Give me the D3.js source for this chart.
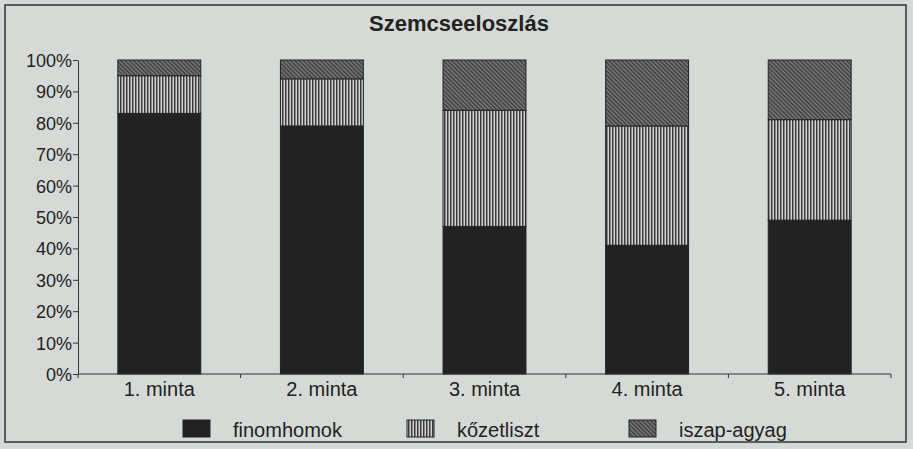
<!DOCTYPE html>
<html>
<head>
<meta charset="utf-8">
<script src="https://cdn.jsdelivr.net/npm/d3@7"></script>
<style>
  body { margin: 0; background: #d6dad7; }
  svg { display: block; font-family: "Liberation Sans", Arial, sans-serif; }
</style>
</head>
<body>
<svg id="graph" width="913" height="449"></svg>
<script>
  var samples = ["1. minta", "2. minta", "3. minta", "4. minta", "5. minta"];
  var finomhomok = [83, 79, 47, 41, 49];
  var kozetliszt = [12, 15, 37, 38, 32];
  var iszapAgyag = [5, 6, 16, 21, 19];
  var seriesNames = ["finomhomok", "kőzetliszt", "iszap-agyag"];
  var yTicks = [0, 10, 20, 30, 40, 50, 60, 70, 80, 90, 100];

  var svg = d3.select("#graph");
  // plot box (note: "top" is reserved on window, so use other names)
  var plotL = 78, plotR = 891, plotT = 60, plotB = 374;

  // patterns for the fills
  var defs = svg.append("defs");
  var pv = defs.append("pattern").attr("id", "vert")
    .attr("patternUnits", "userSpaceOnUse").attr("width", 3).attr("height", 3);
  pv.append("rect").attr("width", 3).attr("height", 3).attr("fill", "#d2d4d2");
  pv.append("rect").attr("width", 1.5).attr("height", 3).attr("fill", "#3a3a3a");

  var pd = defs.append("pattern").attr("id", "diag")
    .attr("patternUnits", "userSpaceOnUse").attr("width", 3).attr("height", 3)
    .attr("patternTransform", "rotate(-45)");
  pd.append("rect").attr("width", 3).attr("height", 3).attr("fill", "#7a7c7a");
  pd.append("rect").attr("width", 1.4).attr("height", 3).attr("fill", "#383838");

  var fills = ["#222222", "url(#vert)", "url(#diag)"];

  // outer frame
  svg.append("rect").attr("x", 5).attr("y", 5).attr("width", 901).attr("height", 437)
    .attr("fill", "none").attr("stroke", "#333").attr("stroke-width", 1.5);

  svg.append("text").text("Szemcseeloszlás")
    .attr("x", 459).attr("y", 31)
    .attr("text-anchor", "middle")
    .style("font-weight", "bold").style("font-size", "22px").attr("fill", "#222");

  var x = d3.scaleBand().domain(samples).range([plotL, plotR]).paddingInner(0.49).paddingOuter(0.245);
  var y = d3.scaleLinear().domain([0, 100]).range([plotB, plotT]);

  var rows = samples.map(function(s, i) {
    return { name: s, finomhomok: finomhomok[i], "kőzetliszt": kozetliszt[i], "iszap-agyag": iszapAgyag[i] };
  });
  var stacked = d3.stack().keys(seriesNames)(rows);

  stacked.forEach(function(layer, li) {
    svg.append("g").selectAll("rect").data(layer).enter().append("rect")
      .attr("x", function(d) { return x(d.data.name); })
      .attr("y", function(d) { return y(d[1]); })
      .attr("width", x.bandwidth())
      .attr("height", function(d) { return y(d[0]) - y(d[1]); })
      .attr("fill", fills[li])
      .attr("stroke", "#222").attr("stroke-width", 1);
  });

  // y axis
  var yAxis = svg.append("g").attr("transform", "translate(" + plotL + ",0)")
    .call(d3.axisLeft(y).tickValues(yTicks).tickSize(5).tickSizeOuter(0)
      .tickFormat(function(d) { return d + "%"; }));
  yAxis.selectAll("text").style("font-size", "18px").attr("fill", "#222").attr("x", -6).attr("dy", "0.36em");
  yAxis.selectAll("line, path").attr("stroke", "#333");

  // x axis with ticks at band edges
  var xAxis = svg.append("g").attr("transform", "translate(0," + plotB + ")");
  xAxis.append("line").attr("x1", plotL).attr("x2", plotR).attr("stroke", "#333");
  d3.range(samples.length + 1).forEach(function(i) {
    var xx = plotL + i * (plotR - plotL) / samples.length;
    xAxis.append("line").attr("x1", xx).attr("x2", xx).attr("y1", 0).attr("y2", 4).attr("stroke", "#333");
  });
  xAxis.selectAll(".xl").data(samples).enter().append("text")
    .attr("x", function(d) { return x(d) + x.bandwidth() / 2; })
    .attr("y", 22)
    .attr("text-anchor", "middle")
    .style("font-size", "20px").attr("fill", "#222")
    .text(function(d) { return d; });

  // legend
  var legX = [183, 407, 629];
  var leg = svg.append("g");
  seriesNames.forEach(function(n, i) {
    leg.append("rect").attr("x", legX[i]).attr("y", 420).attr("width", 27).attr("height", 17)
      .attr("fill", fills[i]).attr("stroke", "#222");
    leg.append("text").attr("x", legX[i] + 50).attr("y", 437)
      .style("font-size", "20px").attr("fill", "#222").text(n);
  });
</script>
</body>
</html>
